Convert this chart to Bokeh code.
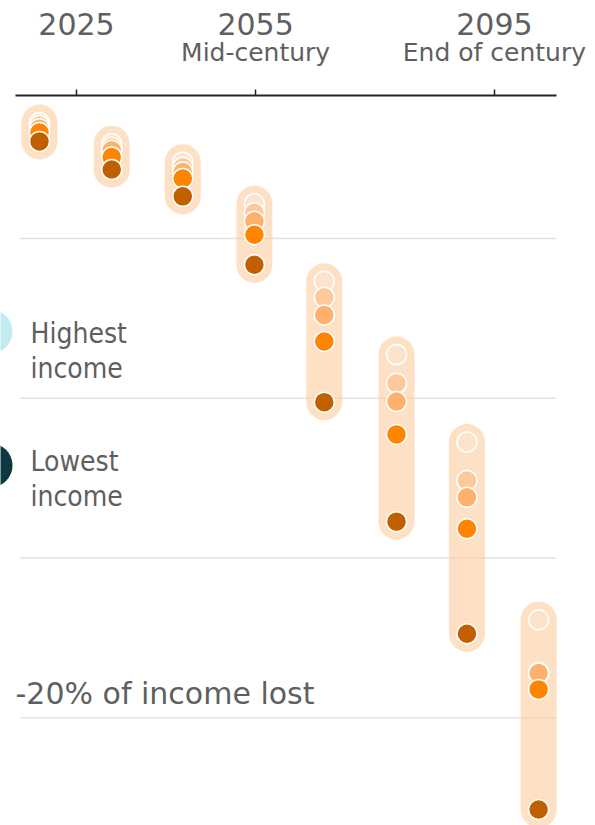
from bokeh.plotting import figure
from bokeh.models import Range1d, LinearAxis, FixedTicker
from bokeh.core.properties import value
from bokeh.embed import file_html
from bokeh.resources import INLINE

# ---- data ----
col_years = [2018.8, 2030.9, 2042.8, 2054.8, 2066.5, 2078.6, 2090.4, 2102.4]
# share of income lost (%), from highest-income group to lowest-income group
g_highest = [-1.37, -2.03, -2.61, -3.91, -6.34, -8.63, -11.37, -16.93]
g_upper = [-1.46, -2.14, -2.77, -4.19, -6.84, -9.53, -12.57, -18.58]
g_middle = [-1.56, -2.24, -2.92, -4.46, -7.39, -10.10, -13.10, -18.60]
g_lower = [-1.68, -2.45, -3.12, -4.88, -8.22, -11.13, -14.08, -19.11]
g_lowest = [-1.96, -2.84, -3.68, -5.82, -10.12, -13.86, -17.37, -22.87]
groups = [g_highest, g_upper, g_middle, g_lower, g_lowest]
group_colors = ["#FDE3CB", "#FDC99A", "#FDB16D", "#FF8500", "#C06000"]

tick_years = [2025, 2055, 2095]
tick_labels = ["2025", "2055", "2095"]
tick_sublabels = ["", "Mid-century", "End of century"]
grid_values = [-5, -10, -15, -20]
grid_label = "-20% of income lost"
grid_label_y = -19.24

legend_labels = ["Highest\nincome", "Lowest\nincome"]
legend_colors = ["#C3EBEF", "#0E3840"]
legend_y = [-7.91, -12.10]
legend_text_y = [-7.44, -11.45]

FONT = "DejaVu Sans"
NARROW = "DejaVu Sans Condensed, Roboto"
TXT = "#5f5f5f"
X_START, X_END = 2012.27, 2111.93
GRID_X0, GRID_X1 = 2015.62, 2105.4

p = figure(width=595, height=825, output_backend="svg", toolbar_location=None,
           x_axis_type=None, y_axis_type=None,
           x_range=Range1d(X_START, X_END), y_range=Range1d(-23.37, -0.523),
           min_border_left=0, min_border_right=0, min_border_bottom=0,
           min_border_top=95)
p.outline_line_color = None
p.background_fill_color = "white"

# horizontal gridlines
p.segment(x0=[GRID_X0] * len(grid_values), y0=grid_values,
          x1=[GRID_X1] * len(grid_values), y1=grid_values,
          line_color="#e2e2e2", line_width=1.5)

# pills
lo = [min(vals) for vals in zip(*groups)]
hi = [max(vals) for vals in zip(*groups)]
p.segment(x0=col_years, y0=lo, x1=col_years, y1=hi, line_width=36,
          line_cap="round", line_color="#FDCB9D", line_alpha=0.6)

# dots
for vals, c in zip(groups, group_colors):
    p.scatter(x=col_years, y=vals, size=20, fill_color=c,
              line_color="white", line_width=1.5)

# legend
p.scatter(x=[2010.6] * 2, y=legend_y, size=44, fill_color=legend_colors,
          line_color=None)
p.text(x=[2017.3] * 2, y=legend_text_y, text=legend_labels,
       text_font=value(NARROW), text_font_size="28px",
       text_color=TXT, text_baseline="top", text_align="left",
       text_line_height=1.07)

# -20% label
p.text(x=[2014.78], y=[grid_label_y], text=[grid_label],
       text_font=value(FONT), text_font_size="30px", text_color=TXT,
       text_baseline="alphabetic", text_align="left")

# axes
ax1 = LinearAxis(ticker=FixedTicker(ticks=tick_years),
                 major_label_overrides=dict(zip(tick_years, tick_sublabels)),
                 bounds=(2014.78, 2105.4))
ax1.axis_line_color = "#222222"
ax1.axis_line_width = 2
ax1.major_tick_line_color = "#222222"
ax1.major_tick_line_width = 1.5
ax1.major_tick_out = 6
ax1.major_tick_in = 0
ax1.minor_tick_line_color = None
ax1.major_label_standoff = 23
ax1.major_label_text_font = FONT
ax1.major_label_text_font_size = "25px"
ax1.major_label_text_color = TXT
p.add_layout(ax1, "above")

ax2 = LinearAxis(ticker=FixedTicker(ticks=tick_years),
                 major_label_overrides=dict(zip(tick_years, tick_labels)))
ax2.axis_line_color = None
ax2.major_tick_line_color = None
ax2.minor_tick_line_color = None
ax2.major_tick_out = 0
ax2.major_tick_in = 0
ax2.major_label_standoff = 0
ax2.major_label_text_font = FONT
ax2.major_label_text_font_size = "30px"
ax2.major_label_text_color = TXT
p.add_layout(ax2, "above")

open("out.html", "w").write(file_html(p, INLINE))
